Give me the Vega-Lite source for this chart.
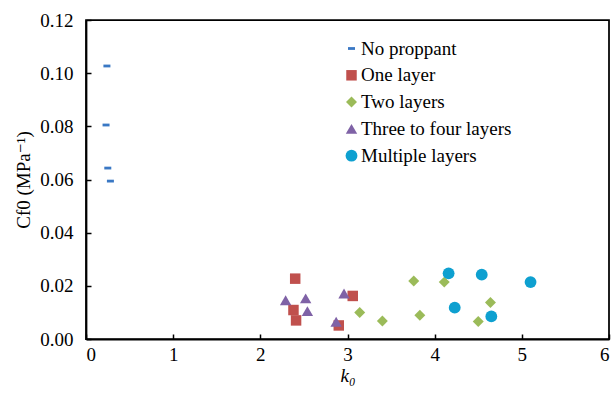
{
  "$schema": "https://vega.github.io/schema/vega-lite/v6.json",
  "width": 523,
  "height": 319,
  "autosize": "none",
  "padding": {"left": 86, "top": 20, "right": 5, "bottom": 56},
  "background": "white",
  "config": {
    "font": "'Liberation Serif', 'DejaVu Serif', serif",
    "view": {"stroke": "black", "strokeWidth": 1.75},
    "axis": {
      "grid": false,
      "domainColor": "black",
      "domainWidth": 1.75,
      "tickColor": "black",
      "tickWidth": 1.5,
      "tickSize": -5,
      "labelFont": "'Liberation Serif', 'DejaVu Serif', serif",
      "labelFontSize": 19,
      "labelColor": "black",
      "titleFont": "'Liberation Serif', 'DejaVu Serif', serif",
      "titleFontSize": 19,
      "titleFontWeight": "normal",
      "titleColor": "black"
    }
  },
  "data": {
    "values": [
      {"k0": 0.24, "Cf0": 0.1027, "type": "No proppant"},
      {"k0": 0.23, "Cf0": 0.0805, "type": "No proppant"},
      {"k0": 0.25, "Cf0": 0.0643, "type": "No proppant"},
      {"k0": 0.28, "Cf0": 0.0594, "type": "No proppant"},
      {"k0": 2.40, "Cf0": 0.0227, "type": "One layer"},
      {"k0": 2.38, "Cf0": 0.0109, "type": "One layer"},
      {"k0": 2.41, "Cf0": 0.0070, "type": "One layer"},
      {"k0": 3.06, "Cf0": 0.0162, "type": "One layer"},
      {"k0": 2.90, "Cf0": 0.0051, "type": "One layer"},
      {"k0": 3.14, "Cf0": 0.0100, "type": "Two layers"},
      {"k0": 3.40, "Cf0": 0.0068, "type": "Two layers"},
      {"k0": 3.76, "Cf0": 0.0218, "type": "Two layers"},
      {"k0": 3.83, "Cf0": 0.0089, "type": "Two layers"},
      {"k0": 4.11, "Cf0": 0.0214, "type": "Two layers"},
      {"k0": 4.64, "Cf0": 0.0137, "type": "Two layers"},
      {"k0": 4.50, "Cf0": 0.0066, "type": "Two layers"},
      {"k0": 2.29, "Cf0": 0.0146, "type": "Three to four layers"},
      {"k0": 2.52, "Cf0": 0.0153, "type": "Three to four layers"},
      {"k0": 2.54, "Cf0": 0.0105, "type": "Three to four layers"},
      {"k0": 2.96, "Cf0": 0.0171, "type": "Three to four layers"},
      {"k0": 2.87, "Cf0": 0.0065, "type": "Three to four layers"},
      {"k0": 4.16, "Cf0": 0.0247, "type": "Multiple layers"},
      {"k0": 4.54, "Cf0": 0.0242, "type": "Multiple layers"},
      {"k0": 5.10, "Cf0": 0.0214, "type": "Multiple layers"},
      {"k0": 4.23, "Cf0": 0.0118, "type": "Multiple layers"},
      {"k0": 4.65, "Cf0": 0.0085, "type": "Multiple layers"}
    ]
  },
  "mark": {"type": "point", "filled": true, "opacity": 1},
  "encoding": {
    "x": {
      "field": "k0", "type": "quantitative",
      "scale": {"domain": [0, 6], "nice": false},
      "axis": {"values": [0, 1, 2, 3, 4, 5, 6], "format": "d", "labelPadding": 11, "title": "k₀", "titleFontStyle": "italic", "titlePadding": 2}
    },
    "y": {
      "field": "Cf0", "type": "quantitative",
      "scale": {"domain": [0, 0.12], "nice": false},
      "axis": {"values": [0, 0.02, 0.04, 0.06, 0.08, 0.1, 0.12], "format": ".2f", "labelPadding": 18, "title": "Cf0 (MPa⁻¹)", "titlePadding": 6}
    },
    "color": {
      "field": "type", "type": "nominal",
      "scale": {
        "domain": ["No proppant", "One layer", "Two layers", "Three to four layers", "Multiple layers"],
        "range": ["#3a78c4", "#c0504d", "#9bbb59", "#7f62a6", "#0ea0d0"]
      },
      "legend": {
        "title": null,
        "orient": "none",
        "legendX": 256,
        "legendY": 19,
        "labelFont": "'Liberation Serif', 'DejaVu Serif', serif",
        "labelFontSize": 19,
        "labelColor": "black",
        "labelOffset": 0,
        "rowPadding": 6.8,
        "symbolStrokeWidth": 0
      }
    },
    "shape": {
      "field": "type", "type": "nominal",
      "scale": {
        "domain": ["No proppant", "One layer", "Two layers", "Three to four layers", "Multiple layers"],
        "range": ["M-0.7,-0.28H0.7V0.28H-0.7Z", "square", "diamond", "triangle-up", "circle"]
      }
    },
    "size": {
      "field": "type", "type": "nominal",
      "scale": {
        "domain": ["No proppant", "One layer", "Two layers", "Three to four layers", "Multiple layers"],
        "range": [100, 140, 90, 100, 100]
      }
    }
  }
}
